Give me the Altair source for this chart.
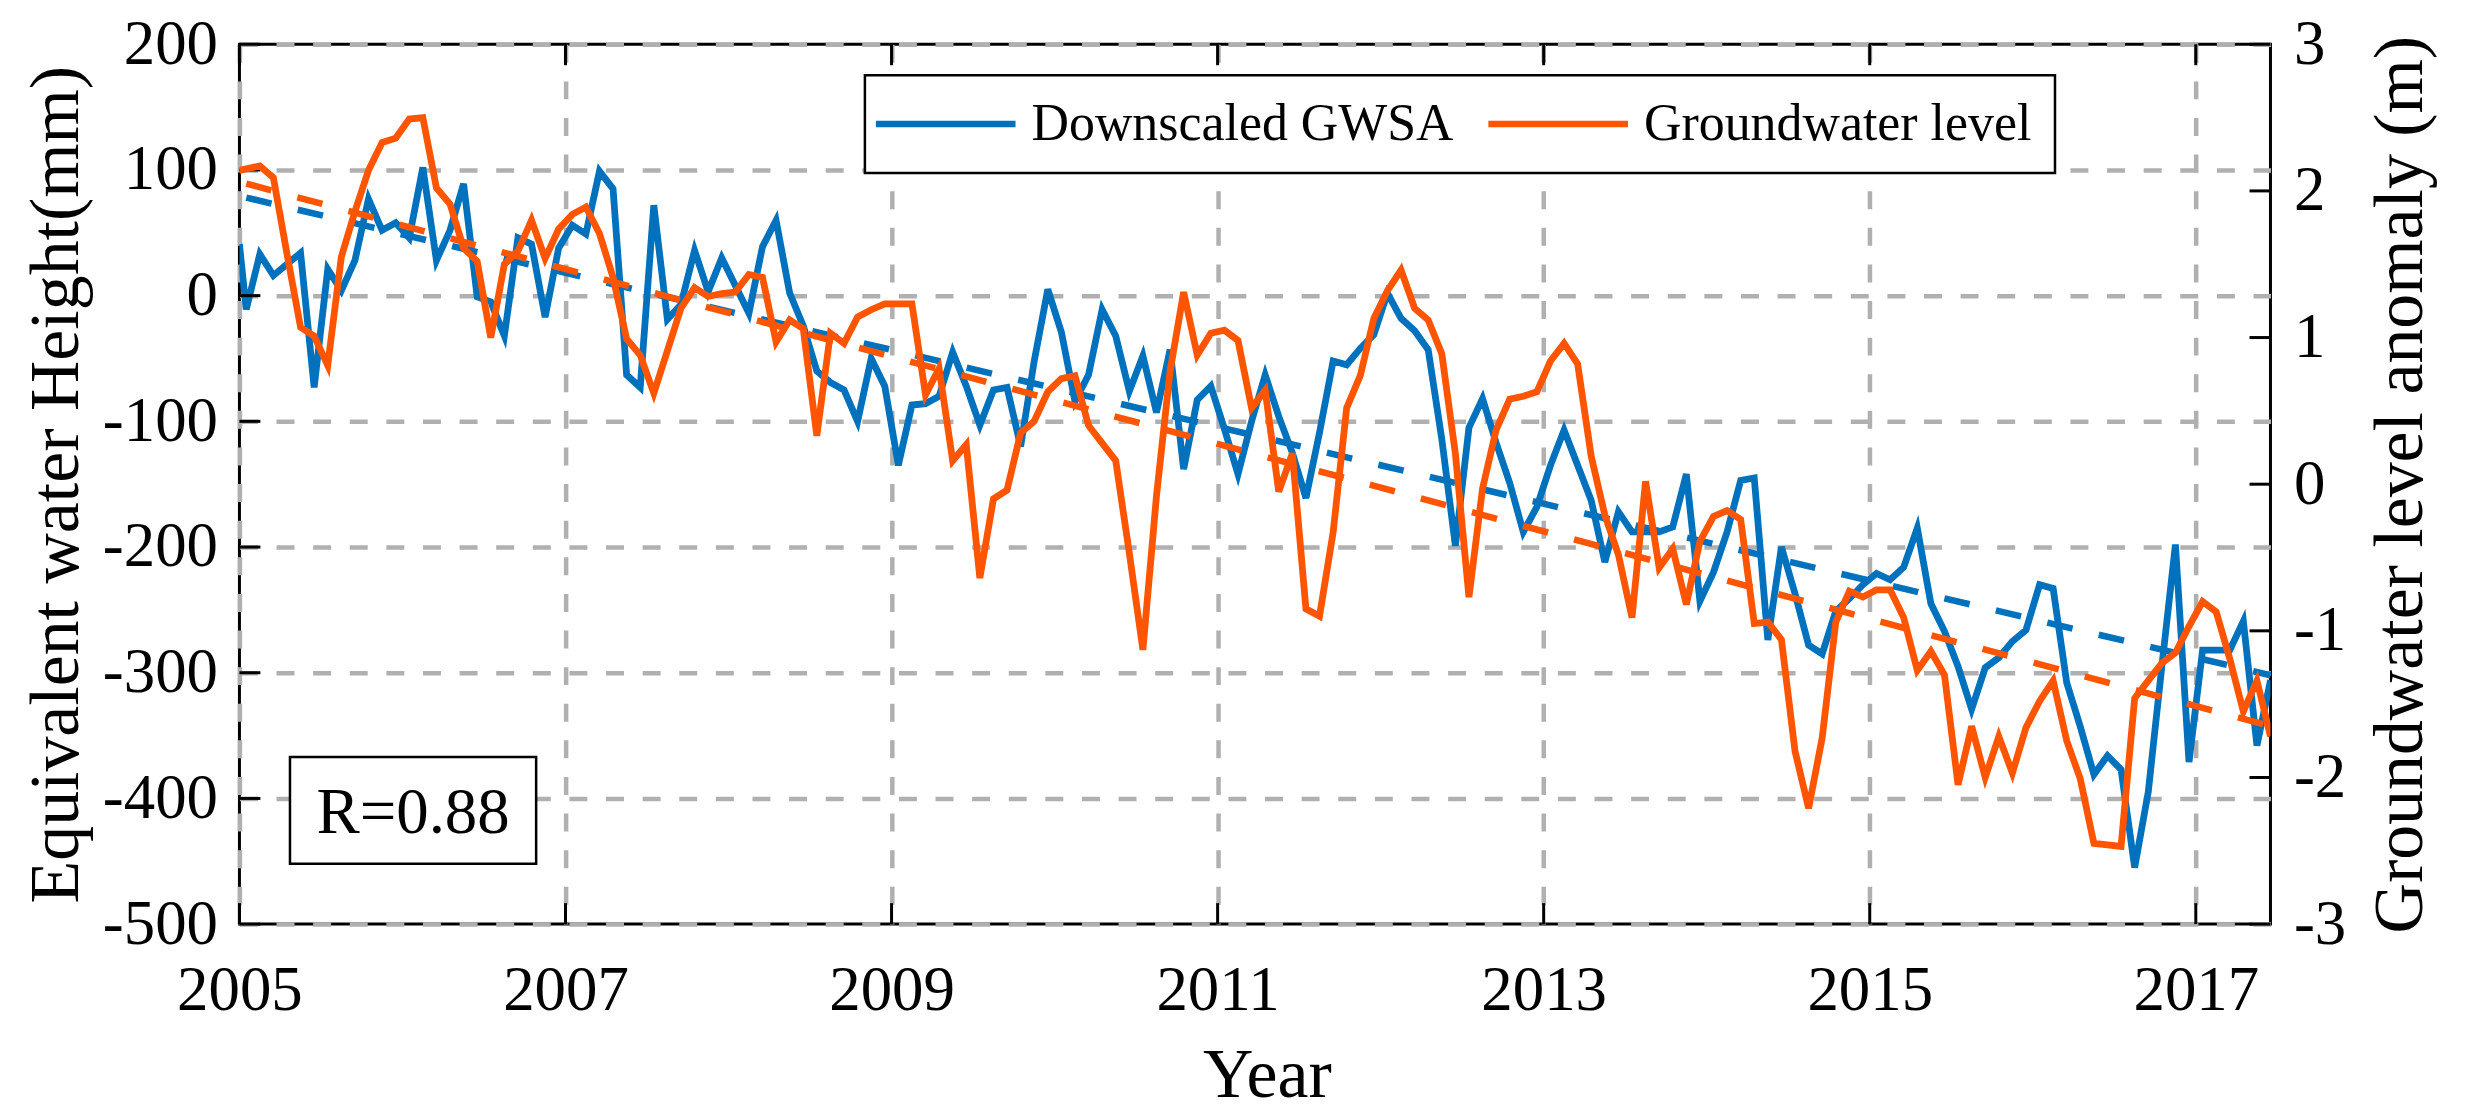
import altair as alt
import pandas as pd

FONT = "Liberation Serif"
BLUE = "#0072BD"
ORANGE = "#FF5500"
GRID = "#b0b0b0"

# time axis: axis start, then monthly mid-points Jan 2005 .. Jun 2017
months = [2005 + (k + 0.5) / 12 for k in range(150)]
years = [2005.0] + months

# Downscaled GWSA (mm), left axis
gwsa_mm = [41,
    -11, 33, 16, 25, 34, -73, 21, 4, 28, 77,
    52, 58, 46, 102, 28, 52, 89, -1, -5, -32,
    46, 41, -17, 38, 56, 49, 99, 85, -63, -73,
    72, -19, -7, 36, 3, 30, 8, -14, 39, 60,
    2, -24, -60, -69, -75, -100, -50, -72, -135, -87,
    -86, -80, -45, -72, -103, -75, -73, -120, -52, 5,
    -29, -84, -63, -11, -32, -76, -48, -93, -43, -138,
    -83, -72, -106, -142, -100, -63, -96, -125, -161, -109,
    -52, -55, -42, -31, 2, -18, -28, -43, -114, -199,
    -105, -82, -117, -149, -188, -168, -135, -107, -135, -163,
    -212, -172, -188, -188, -188, -184, -142, -243, -220, -188,
    -147, -145, -274, -200, -237, -278, -285, -251, -241, -230,
    -221, -226, -216, -185, -245, -267, -295, -329, -296, -288,
    -275, -266, -230, -233, -308, -343, -381, -366, -377, -455,
    -395, -295, -198, -371, -282, -282, -282, -259, -358, -306]

# Groundwater level anomaly (m), right axis
gwl_m = [2.14,
    2.15, 2.17, 2.09, 1.57, 1.07, 1.01, 0.81, 1.55, 1.86, 2.14,
    2.33, 2.36, 2.49, 2.50, 2.02, 1.91, 1.61, 1.52, 1.00, 1.50,
    1.59, 1.80, 1.54, 1.74, 1.84, 1.89, 1.71, 1.41, 0.99, 0.88,
    0.62, 0.91, 1.20, 1.34, 1.28, 1.30, 1.31, 1.43, 1.41, 0.97,
    1.12, 1.06, 0.33, 1.03, 0.96, 1.14, 1.19, 1.23, 1.23, 1.23,
    0.61, 0.79, 0.16, 0.27, -0.64, -0.10, -0.04, 0.35, 0.43, 0.63,
    0.72, 0.74, 0.40, 0.28, 0.16, -0.47, -1.13, -0.08, 0.77, 1.31,
    0.88, 1.03, 1.05, 0.98, 0.52, 0.64, -0.05, 0.21, -0.85, -0.90,
    -0.33, 0.52, 0.74, 1.13, 1.32, 1.46, 1.20, 1.12, 0.89, 0.21,
    -0.77, -0.03, 0.37, 0.58, 0.60, 0.63, 0.84, 0.96, 0.82, 0.19,
    -0.21, -0.48, -0.91, 0.02, -0.57, -0.44, -0.82, -0.39, -0.22, -0.18,
    -0.24, -0.95, -0.94, -1.06, -1.82, -2.21, -1.73, -0.94, -0.73, -0.77,
    -0.72, -0.72, -0.91, -1.27, -1.14, -1.30, -2.05, -1.65, -2.00, -1.72,
    -1.97, -1.66, -1.48, -1.34, -1.75, -2.01, -2.45, -2.46, -2.47, -1.46,
    -1.34, -1.22, -1.15, -0.97, -0.80, -0.87, -1.19, -1.55, -1.34, -1.72]

# linear trends (end points)
trend_years = [2005.042, 2017.458]
gwsa_trend = [78, -302]
gwl_trend = [2.05, -1.65]

series_names = ["Downscaled GWSA", "Groundwater level"]
x_ticks = [2005, 2007, 2009, 2011, 2013, 2015, 2017]
left_ticks = [-500, -400, -300, -200, -100, 0, 100, 200]
right_ticks = [-3, -2, -1, 0, 1, 2, 3]

r_text = "R=0.88"
r_box_x = [2005.31, 2006.82]
r_box_y = [-452, -367]

W, H = 2036, 882
TICK = 21

df_b = pd.DataFrame({"t": years, "v": gwsa_mm, "series": series_names[0]})
df_o = pd.DataFrame({"t": years, "v": gwl_m, "series": series_names[1]})
df_bt = pd.DataFrame({"t": trend_years, "v": gwsa_trend})
df_ot = pd.DataFrame({"t": trend_years, "v": gwl_trend})
df_xt = pd.DataFrame({"t": x_ticks})
df_lt = pd.DataFrame({"v": left_ticks})
df_rt = pd.DataFrame({"v": right_ticks})
df_r = pd.DataFrame({"x": [r_box_x[0]], "x2": [r_box_x[1]], "y": [r_box_y[0]], "y2": [r_box_y[1]],
                     "cx": [sum(r_box_x) / 2], "cy": [sum(r_box_y) / 2 - 2]})

x_scale = alt.Scale(domain=[2005, 2017.458], nice=False, zero=False)
yl_scale = alt.Scale(domain=[-500, 200], nice=False, zero=False)
yr_scale = alt.Scale(domain=[-3, 3], nice=False, zero=False)

common_axis = dict(
    domain=False, ticks=False, tickSize=0,
    labelFont=FONT, labelFontSize=63, labelColor="black", labelFlush=False,
    titleFont=FONT, titleFontSize=70, titleFontWeight="normal", titleColor="black",
    titleBaseline="alphabetic", labelExpr="'' + datum.value",
)

x_axis = alt.Axis(values=x_ticks, title="Year", grid=True, gridColor=GRID, gridWidth=4.5,
                  gridDash=[18, 18.7], labelPadding=36, titleX=1030, titleY=173,
                  **common_axis)
yl_axis = alt.Axis(values=left_ticks, title="Equivalent water Height(mm)", grid=True,
                   gridColor=GRID, gridWidth=4.5, gridDash=[18, 18.7], labelPadding=22,
                   titleAngle=270, titleX=-162, titleY=H / 2, titleAlign="center",
                   **common_axis)
yr_axis = alt.Axis(orient="right", values=right_ticks, title="Groundwater level anomaly (m)",
                   grid=False, labelPadding=23, titleAngle=270, titleX=151, titleY=H / 2,
                   titleAlign="center", **common_axis)

color_scale = alt.Scale(domain=series_names, range=[BLUE, ORANGE])
legend = alt.Legend(title=None, orient="none", legendX=627, legendY=31, direction="horizontal",
                    symbolType="M-3.8,0L10.2,0", symbolSize=400, symbolStrokeWidth=6.5,
                    labelOffset=92, labelFont=FONT, labelFontSize=52, labelColor="black",
                    labelLimit=0, strokeColor="black", fillColor="white", padding=23,
                    columnPadding=21)

X = alt.X("t:Q", scale=x_scale, axis=x_axis)

blue_line = alt.Chart(df_b).mark_line(strokeWidth=6.8, clip=True).encode(
    x=X, y=alt.Y("v:Q", scale=yl_scale, axis=yl_axis),
    color=alt.Color("series:N", scale=color_scale, legend=legend))
blue_trend = alt.Chart(df_bt).mark_line(strokeWidth=6.5, strokeDash=[26, 27], color=BLUE).encode(
    x=X, y=alt.Y("v:Q", scale=yl_scale, axis=yl_axis))
left_tick_marks = alt.Chart(df_lt).mark_rule(color="black", strokeWidth=3).encode(
    y=alt.Y("v:Q", scale=yl_scale, axis=yl_axis), x=alt.value(0), x2=alt.value(TICK))
bottom_ticks = alt.Chart(df_xt).mark_rule(color="black", strokeWidth=3).encode(
    x=X, y=alt.value(H - TICK), y2=alt.value(H))
top_ticks = alt.Chart(df_xt).mark_rule(color="black", strokeWidth=3).encode(
    x=X, y=alt.value(0), y2=alt.value(TICK))
r_box = alt.Chart(df_r).mark_rect(fill="white", stroke="black", strokeWidth=2.5).encode(
    x=alt.X("x:Q", scale=x_scale, axis=x_axis), x2="x2",
    y=alt.Y("y:Q", scale=yl_scale, axis=yl_axis), y2="y2")
r_label = alt.Chart(df_r).mark_text(font=FONT, fontSize=65, align="center", baseline="middle",
                                     color="black").encode(
    x=alt.X("cx:Q", scale=x_scale, axis=x_axis),
    y=alt.Y("cy:Q", scale=yl_scale, axis=yl_axis), text=alt.value(r_text))

left = alt.layer(blue_line, blue_trend, left_tick_marks, bottom_ticks, top_ticks, r_box, r_label)

orange_line = alt.Chart(df_o).mark_line(strokeWidth=6.8, clip=True).encode(
    x=X, y=alt.Y("v:Q", scale=yr_scale, axis=yr_axis),
    color=alt.Color("series:N", scale=color_scale, legend=legend))
orange_trend = alt.Chart(df_ot).mark_line(strokeWidth=6.5, strokeDash=[26, 27], color=ORANGE).encode(
    x=X, y=alt.Y("v:Q", scale=yr_scale, axis=yr_axis))
right_tick_marks = alt.Chart(df_rt).mark_rule(color="black", strokeWidth=3).encode(
    y=alt.Y("v:Q", scale=yr_scale, axis=yr_axis), x=alt.value(W - TICK), x2=alt.value(W))

right = alt.layer(orange_line, orange_trend, right_tick_marks)

chart = alt.layer(left, right).resolve_scale(y="independent").properties(
    width=W, height=H,
    autosize=alt.AutoSizeParams(type="none"),
    padding={"left": 232, "top": 35, "right": 190, "bottom": 192},
).configure_view(stroke="black", strokeWidth=3).configure_legend(strokeWidth=2.5)

chart.save("out.html", embed_options={"renderer": "svg", "actions": False})
